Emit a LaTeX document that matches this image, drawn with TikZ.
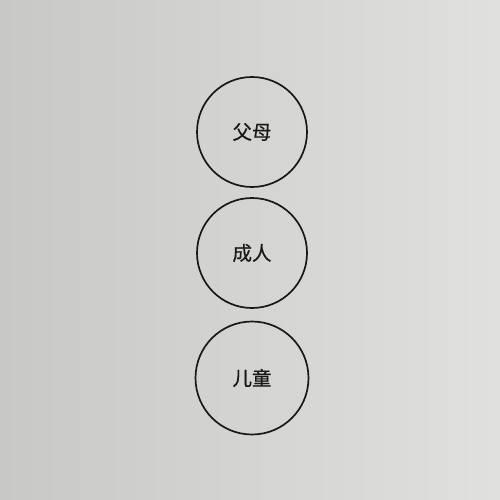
\documentclass[tikz,border=0pt]{standalone}
\usepackage{fontspec}
\newfontfamily\cjk[FakeBold=0.6]{Noto Sans CJK SC}
\definecolor{pageL}{RGB}{200,200,198}
\definecolor{pageR}{RGB}{224,224,222}
\definecolor{ink}{RGB}{25,25,25}
\begin{document}
\begin{tikzpicture}[x=1pt,y=-1pt,
  bubble/.style={circle,draw=ink,line width=1.7pt,minimum size=110pt,inner sep=0pt,
    font=\cjk\fontsize{19.5}{20}\selectfont,text=ink}]
\shade[left color=pageL,right color=pageR] (0,0) rectangle (500,500);
\useasboundingbox (0,0) rectangle (500,500);
\node[bubble] (parents) at (252,132) {父母};
\node[bubble] (adult) at (252,253) {成人};
\node[bubble,minimum size=113pt] (child) at (252,378) {儿童};
\end{tikzpicture}
\end{document}
